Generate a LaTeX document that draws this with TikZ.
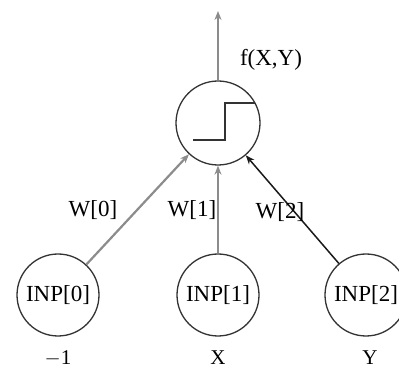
\documentclass[tikz,border=0pt]{standalone}
\usepackage{fontspec}
\setmainfont{Liberation Serif}
\usetikzlibrary{arrows.meta}
\begin{document}
\begin{tikzpicture}[x=1pt,y=-1pt,
  neuron/.style={circle,draw=black!80,line width=1.3pt,minimum size=82pt,inner sep=0pt},
  lbl/.style={font=\fontsize{23}{26}\selectfont,inner sep=0pt},
  wire/.style={line width=2.2pt,draw=black!45,-{Stealth[length=9pt,width=7pt,fill=black!80]}},
  wiredark/.style={line width=1.5pt,draw=black!90,-{Stealth[length=9pt,width=7pt]}}]
\useasboundingbox (0,0) rectangle (399,371);
% summing / threshold unit
\node[neuron,minimum size=84pt] (out) at (218,123) {};
\draw[line width=1.3pt,black!80] ([shift={(-25,17)}]out.center) -- ++(32,0) -- ++(0,-37) -- ++(30,0);
% inputs
\node[neuron,lbl] (i0) at (58,295) {INP[0]};
\node[neuron,lbl] (i1) at (218,295) {INP[1]};
\node[neuron,lbl] (i2) at (366,295) {INP[2]};
\node[lbl,anchor=base,font=\fontsize{21}{24}\selectfont] (v0) at (58,364) {$-$1};
\node[lbl,anchor=base,font=\fontsize{21}{24}\selectfont] (v1) at (218,364) {X};
\node[lbl,anchor=base,font=\fontsize{21}{24}\selectfont] (v2) at (370,364) {Y};
% weighted connections
\draw[wire] (i0) -- (out);
\draw[wire] (i1) -- (out);
\draw[wiredark] (i2) -- (out);
\node[lbl] (w0) at (93,210) {W[0]};
\node[lbl] (w1) at (192,210) {W[1]};
\node[lbl] (w2) at (280,212) {W[2]};
% output
\coordinate (top) at (218,11);
\draw[wire] (out) -- (top);
\node[lbl] (f) at (271,60) {f(X,Y)};
\end{tikzpicture}
\end{document}
